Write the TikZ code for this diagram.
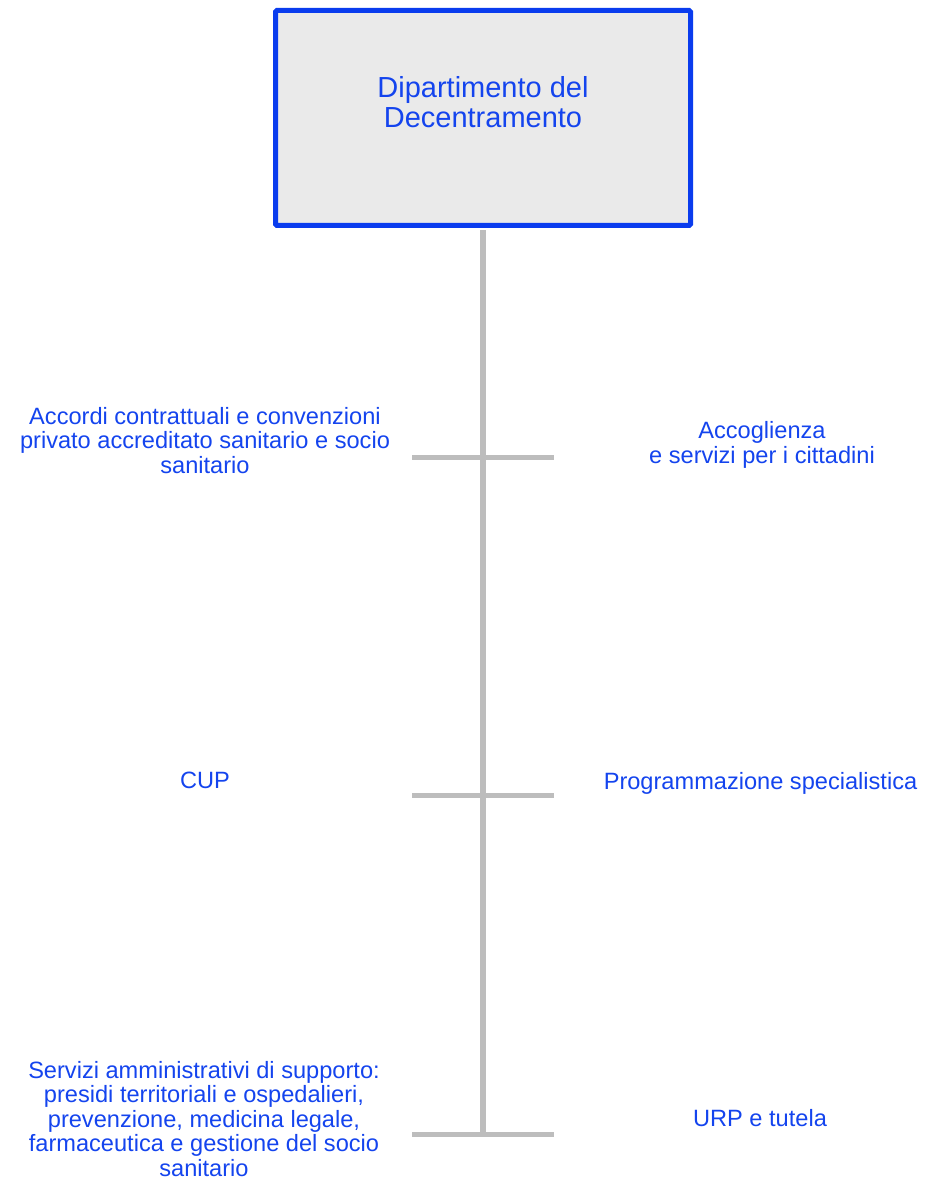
\documentclass[tikz,border=0pt]{standalone}
\usepackage{fontspec}
\setmainfont{Liberation Sans}
\definecolor{deptblue}{HTML}{0A3CEE}
\definecolor{labelblue}{HTML}{1444EE}
\definecolor{boxgray}{HTML}{EAEAEA}
\definecolor{stemgray}{HTML}{BDBDBD}
\begin{document}
\begin{tikzpicture}[x=1pt,y=-1pt,
  deptbox/.style={draw=deptblue, line width=5pt, fill=boxgray, rounded corners=1.5pt,
    minimum width=415pt, minimum height=215pt, inner sep=0pt},
  depttext/.style={text=labelblue, align=center, inner sep=0pt,
    font=\fontsize{29}{30.5}\selectfont},
  unittext/.style={text=labelblue, align=center, inner sep=0pt,
    font=\fontsize{23.6}{24.5}\selectfont},
  stem/.style={draw=stemgray, line width=6pt},
  branch/.style={draw=stemgray, line width=5pt}
]
\useasboundingbox (0,0) rectangle (932,1182);

% junction points on the central stem
\coordinate (j1) at (483,457);
\coordinate (j2) at (483,795);
\coordinate (j3) at (483,1134);
% ends of the horizontal branches
\coordinate (l1) at (412,457);  \coordinate (r1) at (554,457);
\coordinate (l2) at (412,795);  \coordinate (r2) at (554,795);
\coordinate (l3) at (412,1134); \coordinate (r3) at (554,1134);

% head of the department
\node[deptbox] (dept) at (483,118) {};
\node[depttext] (depttitle) at (483,102) {Dipartimento del\\Decentramento};

% central stem and branches
\draw[stem, shorten <=2.5pt] (dept.south) -- (j3);
\draw[branch] (l1) -- (r1);
\draw[branch] (l2) -- (r2);
\draw[branch] (l3) -- (r3);

% units
\node[unittext] (accordi) at (205,440.5)
  {Accordi contrattuali e convenzioni\\privato accreditato sanitario e socio\\sanitario};
\node[unittext] (accoglienza) at (762,445)
  {Accoglienza\\e servizi per i cittadini};
\node[unittext] (cup) at (205,780) {CUP};
\node[unittext] (programmazione) at (760.5,783) {Programmazione specialistica};
\node[unittext] (servizi) at (204,1118.7)
  {Servizi amministrativi di supporto:\\presidi territoriali e ospedalieri,\\prevenzione, medicina legale,\\farmaceutica e gestione del socio\\sanitario};
\node[unittext] (urp) at (760,1118.5) {URP e tutela};
\end{tikzpicture}
\end{document}
